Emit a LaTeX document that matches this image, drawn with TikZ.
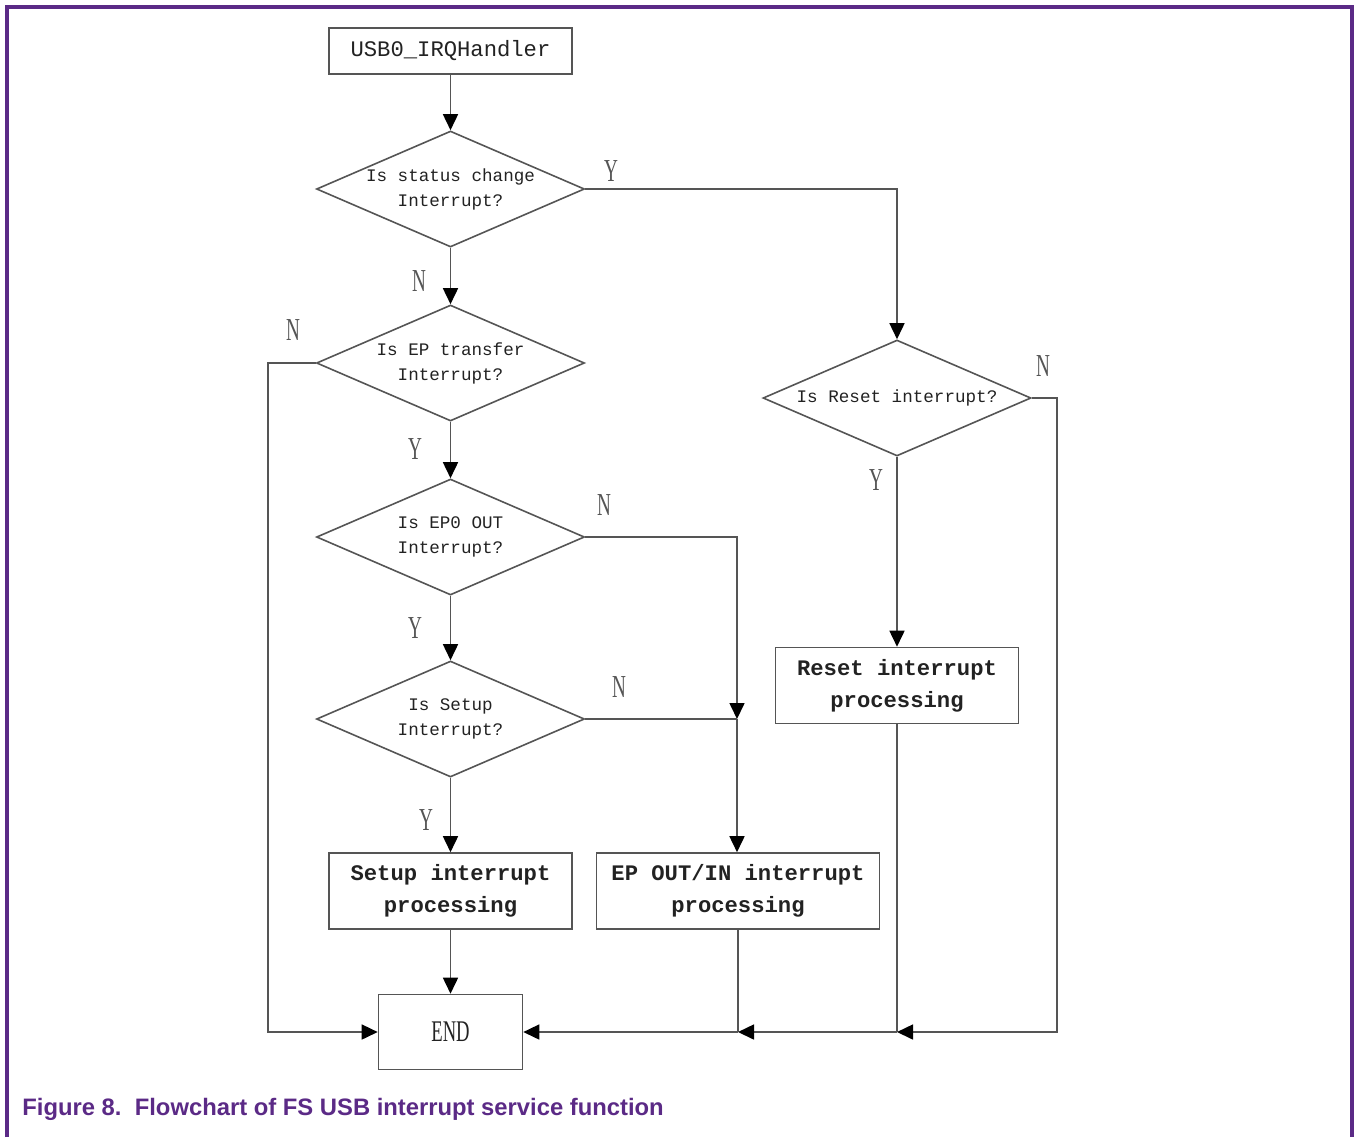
\documentclass[tikz,border=0pt]{standalone}
\usepackage{fontspec}
\setmainfont{Liberation Serif}
\newfontfamily\chartmono{Liberation Mono}
\newfontfamily\chartserif{Liberation Serif}
\newfontfamily\capfont{Liberation Sans}
\usetikzlibrary{shapes.geometric,arrows.meta}
\definecolor{framepurple}{HTML}{5B2A86}
\definecolor{lineg}{HTML}{555555}
\definecolor{txt}{HTML}{222222}
\begin{document}
\begin{tikzpicture}[x=0.5pt,y=-0.5pt,
  line/.style={draw=lineg,line width=0.8pt},
  arr/.style={line,-{Triangle[length=8pt,width=7.5pt,color=black]}},
  decision/.style={diamond,draw=lineg,line width=0.8pt,aspect=2.31,inner sep=0pt,
    minimum width=134pt,minimum height=58pt,align=center,text=txt,
    font=\chartmono\fontsize{8.8}{12.5}\selectfont},
  startbox/.style={rectangle,draw=lineg,line width=0.8pt,minimum width=121.5pt,
    minimum height=23pt,text=txt,font=\chartmono\fontsize{11.1}{13}\selectfont},
  procbox/.style={rectangle,draw=lineg,line width=0.8pt,minimum height=38pt,
    align=center,text=txt,font=\chartmono\bfseries\fontsize{11.1}{16}\selectfont},
  yn/.style={text=lineg,inner sep=0pt,font=\chartserif\fontsize{16}{16}\selectfont},
]
% frame and page size
\useasboundingbox (0,0) rectangle (1354,1137);
\draw[framepurple,line width=1.6pt] (7,1137) -- (7,7) -- (1352,7) -- (1352,1137);

% nodes
\node[startbox] (start) at (450.5,51) {USB0\_IRQHandler};
\node[decision] (d1) at (450.5,189) {Is status change\\Interrupt?};
\node[decision] (d2) at (450.5,363) {Is EP transfer\\Interrupt?};
\node[decision] (d3) at (450.5,537) {Is EP0 OUT\\Interrupt?};
\node[decision] (d4) at (450.5,719) {Is Setup\\Interrupt?};
\node[decision] (dr) at (897,398) {Is Reset interrupt?};
\node[procbox,minimum width=121.5pt] (setup) at (450.5,891) {Setup interrupt\\processing};
\node[procbox,minimum width=141.5pt] (epio) at (738,891) {EP OUT/IN interrupt\\processing};
\node[procbox,minimum width=121.5pt] (reset) at (897,685.5) {Reset interrupt\\processing};
\node[rectangle,draw=lineg,line width=0.8pt,minimum width=72pt,minimum height=37.5pt,
  text=txt,font=\chartserif\fontsize{15}{15}\selectfont] (end) at (450.5,1032)
  {\scalebox{0.62}[1]{END}};

% junction points
\coordinate (jr) at (897,189);
\coordinate (jl1) at (268,363);
\coordinate (jl2) at (268,1032);
\coordinate (jm1) at (737,537);
\coordinate (jm2) at (737,719);
\coordinate (jrr1) at (1057,398);
\coordinate (jrr2) at (1057,1032);
\coordinate (jb1) at (897,1032);
\coordinate (jb2) at (738,1032);

% connectors
\draw[arr] (start) -- (d1);
\draw[arr] (d1) -- (d2);
\draw[arr] (d1.east) -- (jr) -- (dr.north);
\draw[arr] (d2) -- (d3);
\draw[arr] (d2.west) -- (jl1) -- (jl2) -- (end.west);
\draw[arr] (d3) -- (d4);
\draw[arr] (d3.east) -- (jm1) -- (jm2);
\draw[line] (d4.east) -- (jm2);
\draw[arr] (jm2) -- (epio.north -| jm2);
\draw[arr] (d4) -- (setup);
\draw[arr] (setup) -- (end);
\draw[arr] (dr) -- (reset);
\draw[line] (epio.south -| jb2) -- (jb2);
\draw[line] (reset.south) -- (jb1);
\draw[arr] (dr.east) -- (jrr1) -- (jrr2) -- (jb1);
\draw[arr] (jb1) -- (jb2);
\draw[arr] (jb2) -- (end.east);

% branch labels
\node[yn] (ln1) at (419,281) {\scalebox{0.6}[1]{N}};
\node[yn] (ly1) at (611,171) {\scalebox{0.6}[1]{Y}};
\node[yn] (ln2) at (293,330) {\scalebox{0.6}[1]{N}};
\node[yn] (ly2) at (415,449) {\scalebox{0.6}[1]{Y}};
\node[yn] (ln3) at (604,505) {\scalebox{0.6}[1]{N}};
\node[yn] (ly3) at (415,628) {\scalebox{0.6}[1]{Y}};
\node[yn] (ln4) at (619,687) {\scalebox{0.6}[1]{N}};
\node[yn] (ly4) at (426,820) {\scalebox{0.6}[1]{Y}};
\node[yn] (lyr) at (876,480) {\scalebox{0.6}[1]{Y}};
\node[yn] (lnr) at (1043,366) {\scalebox{0.6}[1]{N}};

% caption
\node[anchor=west,inner sep=0pt,text=framepurple,
  font=\capfont\bfseries\fontsize{11.9}{14}\selectfont] (cap) at (22,1109)
  {Figure 8.\ \ Flowchart of FS USB interrupt service function};
\end{tikzpicture}
\end{document}
